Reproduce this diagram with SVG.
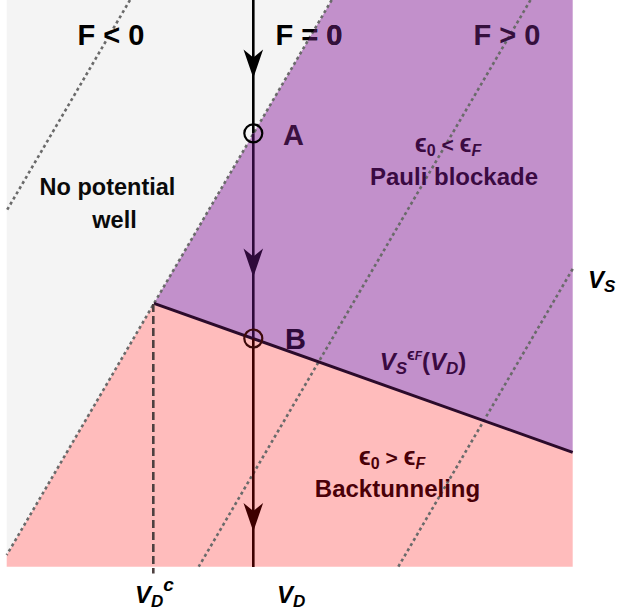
<svg xmlns="http://www.w3.org/2000/svg" width="617" height="614" viewBox="0 0 617 614">
<style>
text{font-family:"Liberation Sans","DejaVu Sans",sans-serif;font-weight:bold}
.dot{stroke:#6a6a6a;stroke-width:2.6;stroke-dasharray:3,3;fill:none}
.it{font-style:italic}
.eps{font-size:25px}
</style>
<defs>
<clipPath id="purpleClip"><path d="M331.7,0 L572.7,0 L572.7,452.3 L154,303.3 Z"/></clipPath>
</defs>
<rect width="617" height="614" fill="#ffffff"/>
<g id="regions">
<path id="gray" d="M6.7,0 L331.7,0 L6.7,555 Z" fill="#f4f4f4"/>
<path id="purple" d="M331.7,0 L572.7,0 L572.7,452.3 L154,303.3 Z" fill="#c290cb"/>
<path id="pink" d="M154,303.3 L572.7,452.3 L572.7,566.7 L6.7,566.7 L6.7,555 Z" fill="#ffbcbc"/>
</g>
<g id="connectors">
<line class="dot" x1="130" y1="0" x2="6.7" y2="210.6"/>
<line class="dot" x1="331.7" y1="0" x2="6.7" y2="555"/>
<line class="dot" x1="530.5" y1="0" x2="198.7" y2="566.7"/>
<line class="dot" x1="572.7" y1="268.9" x2="398.3" y2="566.7"/>
<line x1="154" y1="303.3" x2="572.7" y2="452.3" stroke="#2b0b2b" stroke-width="3"/>
<line x1="153.3" y1="304" x2="153.3" y2="573.5" stroke="#4d4040" stroke-width="2.6" stroke-dasharray="8,4"/>
<line x1="253.3" y1="0" x2="253.3" y2="133.3" stroke="#000000" stroke-width="2.6"/>
<line x1="253.3" y1="133.3" x2="253.3" y2="338.5" stroke="#2e0a3a" stroke-width="2.6"/>
<line x1="253.3" y1="338.5" x2="253.3" y2="567" stroke="#3e0000" stroke-width="2.6"/>
<path d="M253.3,78 L243.5,49.5 L253.3,57.5 L263.1,49.5 Z" fill="#000000"/>
<path d="M253.3,277 L243.5,248.5 L253.3,256.5 L263.1,248.5 Z" fill="#2e0a3a"/>
<path d="M253.3,531.5 L243.5,503 L253.3,511 L263.1,503 Z" fill="#3e0000"/>
</g>
<g id="pointA">
<circle cx="253.3" cy="133.3" r="9" fill="none" stroke="#000000" stroke-width="2.2"/>
<text x="283" y="145" font-size="29" fill="#3a1040">A</text>
</g>
<g id="pointB">
<circle cx="253.3" cy="338.5" r="9" fill="none" stroke="#3e0a0a" stroke-width="2.2"/>
<text x="285" y="348.5" font-size="29" fill="#2e0a3a">B</text>
</g>
<g id="labels">
<text x="111" y="45" font-size="29" text-anchor="middle" fill="#000">F &lt; 0</text>
<text x="309" y="45" font-size="29" text-anchor="middle" fill="#000">F = 0</text>
<text x="309" y="45" font-size="29" text-anchor="middle" fill="#35103d" clip-path="url(#purpleClip)">F = 0</text>
<text x="507" y="45" font-size="29" text-anchor="middle" fill="#35103d">F &gt; 0</text>
<text x="107.5" y="195" font-size="23.5" text-anchor="middle" fill="#0a0a0a">No potential</text>
<text x="114.5" y="228" font-size="23.5" text-anchor="middle" fill="#0a0a0a">well</text>
<text x="448" y="152" font-size="21" text-anchor="middle" fill="#3a0a42"><tspan class="eps">ϵ</tspan><tspan font-size="16" dy="4">0</tspan><tspan dy="-4"> &lt; </tspan><tspan class="eps">ϵ</tspan><tspan class="it" font-size="16" dy="4">F</tspan></text>
<text x="454" y="185" font-size="24" text-anchor="middle" fill="#3a0a42">Pauli blockade</text>
<text x="423" y="370" font-size="24" text-anchor="middle" fill="#3a0a42"><tspan class="it">V</tspan><tspan class="it" font-size="17" dy="4">S</tspan><tspan font-size="16" dy="-14">ϵ</tspan><tspan font-size="12" font-style="italic">F</tspan><tspan dy="10">(</tspan><tspan class="it">V</tspan><tspan class="it" font-size="17" dy="4">D</tspan><tspan dy="-4">)</tspan></text>
<text x="392" y="465" font-size="21" text-anchor="middle" fill="#4a0008"><tspan class="eps">ϵ</tspan><tspan font-size="16" dy="4">0</tspan><tspan dy="-4"> &gt; </tspan><tspan class="eps">ϵ</tspan><tspan class="it" font-size="16" dy="4">F</tspan></text>
<text x="397.5" y="497" font-size="24" text-anchor="middle" fill="#4a0008">Backtunneling</text>
<text x="588" y="288" font-size="24" fill="#000" class="it">V<tspan font-size="17" dy="4">S</tspan></text>
<text x="135" y="603" font-size="24" fill="#000" class="it">V<tspan font-size="17" dy="4">D</tspan><tspan font-size="19" dy="-16">c</tspan></text>
<text x="277" y="603" font-size="24" fill="#000" class="it">V<tspan font-size="17" dy="4">D</tspan></text>
</g>
</svg>
